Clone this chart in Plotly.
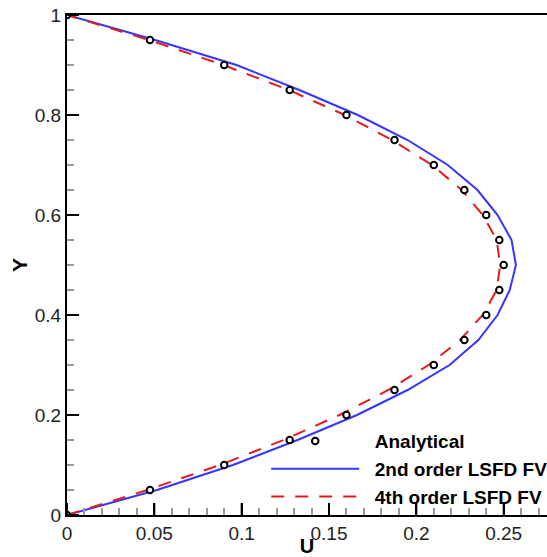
import plotly.graph_objects as go

# Y positions (shared)
y_vals = [0.0, 0.05, 0.1, 0.15, 0.2, 0.25, 0.3, 0.35, 0.4, 0.45, 0.5,
          0.55, 0.6, 0.65, 0.7, 0.75, 0.8, 0.85, 0.9, 0.95, 1.0]

# Analytical U values
u_analytical = [0.0, 0.0475, 0.09, 0.1275, 0.16, 0.1875, 0.21, 0.2275, 0.24, 0.2475, 0.25,
                0.2475, 0.24, 0.2275, 0.21, 0.1875, 0.16, 0.1275, 0.09, 0.0475, 0.0]

# 2nd order LSFD FV
u_2nd = [0.0, 0.0515, 0.095, 0.132, 0.166, 0.195, 0.219, 0.2355, 0.2465, 0.2535, 0.257,
         0.2545, 0.2465, 0.235, 0.218, 0.195, 0.1665, 0.133, 0.097, 0.0505, 0.0]

# 4th order LSFD FV
u_4th = [0.0, 0.046, 0.0875, 0.124, 0.156, 0.184, 0.207, 0.225, 0.238, 0.246, 0.248,
         0.246, 0.238, 0.226, 0.209, 0.186, 0.159, 0.127, 0.0895, 0.047, 0.0]

x_ticks = [0, 0.05, 0.1, 0.15, 0.2, 0.25]
y_ticks = [0, 0.2, 0.4, 0.6, 0.8, 1]
x_minor = [0.01, 0.02, 0.03, 0.04, 0.06, 0.07, 0.08, 0.09, 0.11, 0.12, 0.13, 0.14,
           0.16, 0.17, 0.18, 0.19, 0.21, 0.22, 0.23, 0.24, 0.26, 0.27]
y_minor = [0.05, 0.1, 0.15, 0.25, 0.3, 0.35, 0.45, 0.5, 0.55, 0.65, 0.7, 0.75,
           0.85, 0.9, 0.95]

X_MAX = 0.2748
FONT = "Liberation Sans, Arial, Helvetica, sans-serif"
PAD = "\u00a0\u00a0"

fig = go.Figure()
fig.add_trace(go.Scatter(
    x=u_2nd, y=y_vals, mode="lines", name=PAD + "<b>2nd order LSFD FV</b>",
    line=dict(color="#3535ff", width=2), legendrank=2))
fig.add_trace(go.Scatter(
    x=u_4th, y=y_vals, mode="lines", name=PAD + "<b>4th order LSFD FV</b>",
    line=dict(color="#e41a1c", width=2, dash="13px,11px"), legendrank=3))
fig.add_trace(go.Scatter(
    x=u_analytical, y=y_vals, mode="markers", name=PAD + "<b>Analytical</b>",
    marker=dict(symbol="circle", size=6.5, color="white",
                line=dict(color="black", width=2)), legendrank=1))

# Tick marks drawn inside the axes (backup to the axis' own inside ticks)
shapes = []
for v in x_ticks:
    shapes.append(dict(type="line", xref="x", yref="y", x0=v, x1=v, y0=0, y1=0.024,
                       line=dict(color="black", width=2), layer="above"))
for v in x_minor:
    shapes.append(dict(type="line", xref="x", yref="y", x0=v, x1=v, y0=0, y1=0.014,
                       line=dict(color="#999999", width=1), layer="above"))
for v in y_ticks:
    shapes.append(dict(type="line", xref="x", yref="y", y0=v, y1=v, x0=0, x1=0.0069,
                       line=dict(color="black", width=2), layer="above"))
for v in y_minor:
    shapes.append(dict(type="line", xref="x", yref="y", y0=v, y1=v, x0=0, x1=0.004,
                       line=dict(color="#999999", width=1), layer="above"))

fig.update_layout(
    width=547, height=557,
    margin=dict(l=67, r=0, t=15, b=42, autoexpand=False),
    paper_bgcolor="white", plot_bgcolor="white",
    font=dict(family=FONT, size=19, color="#222"),
    showlegend=True,
    legend=dict(x=0.415, y=0.1856, xanchor="left", yanchor="top",
                bgcolor="rgba(0,0,0,0)", itemwidth=88,
                font=dict(family=FONT, size=19, color="black"),
                tracegroupgap=0),
    shapes=shapes,
    xaxis=dict(
        range=[0, X_MAX], tickmode="linear", tick0=x_ticks[0],
        dtick=x_ticks[1] - x_ticks[0],
        ticks="inside", ticklen=12, tickwidth=2, tickcolor="black",
        showline=True, linecolor="black", linewidth=2, mirror=True,
        showgrid=False, zeroline=False,
        minor=dict(dtick=0.01, ticks="inside", ticklen=7, tickcolor="#999999"),
        title=dict(text="<b>U</b>", font=dict(family=FONT, size=20, color="black"),
                   standoff=6),
    ),
    yaxis=dict(
        range=[0, 1], tickmode="linear", tick0=y_ticks[0],
        dtick=y_ticks[1] - y_ticks[0],
        ticks="inside", ticklen=12, tickwidth=2, tickcolor="black",
        showline=True, linecolor="black", linewidth=2, mirror=False,
        showgrid=False, zeroline=False,
        minor=dict(dtick=0.05, ticks="inside", ticklen=7, tickcolor="#999999"),
        title=dict(text="<b>Y</b>", font=dict(family=FONT, size=21, color="black"),
                   standoff=1),
    ),
)

fig.write_html("out.html")
